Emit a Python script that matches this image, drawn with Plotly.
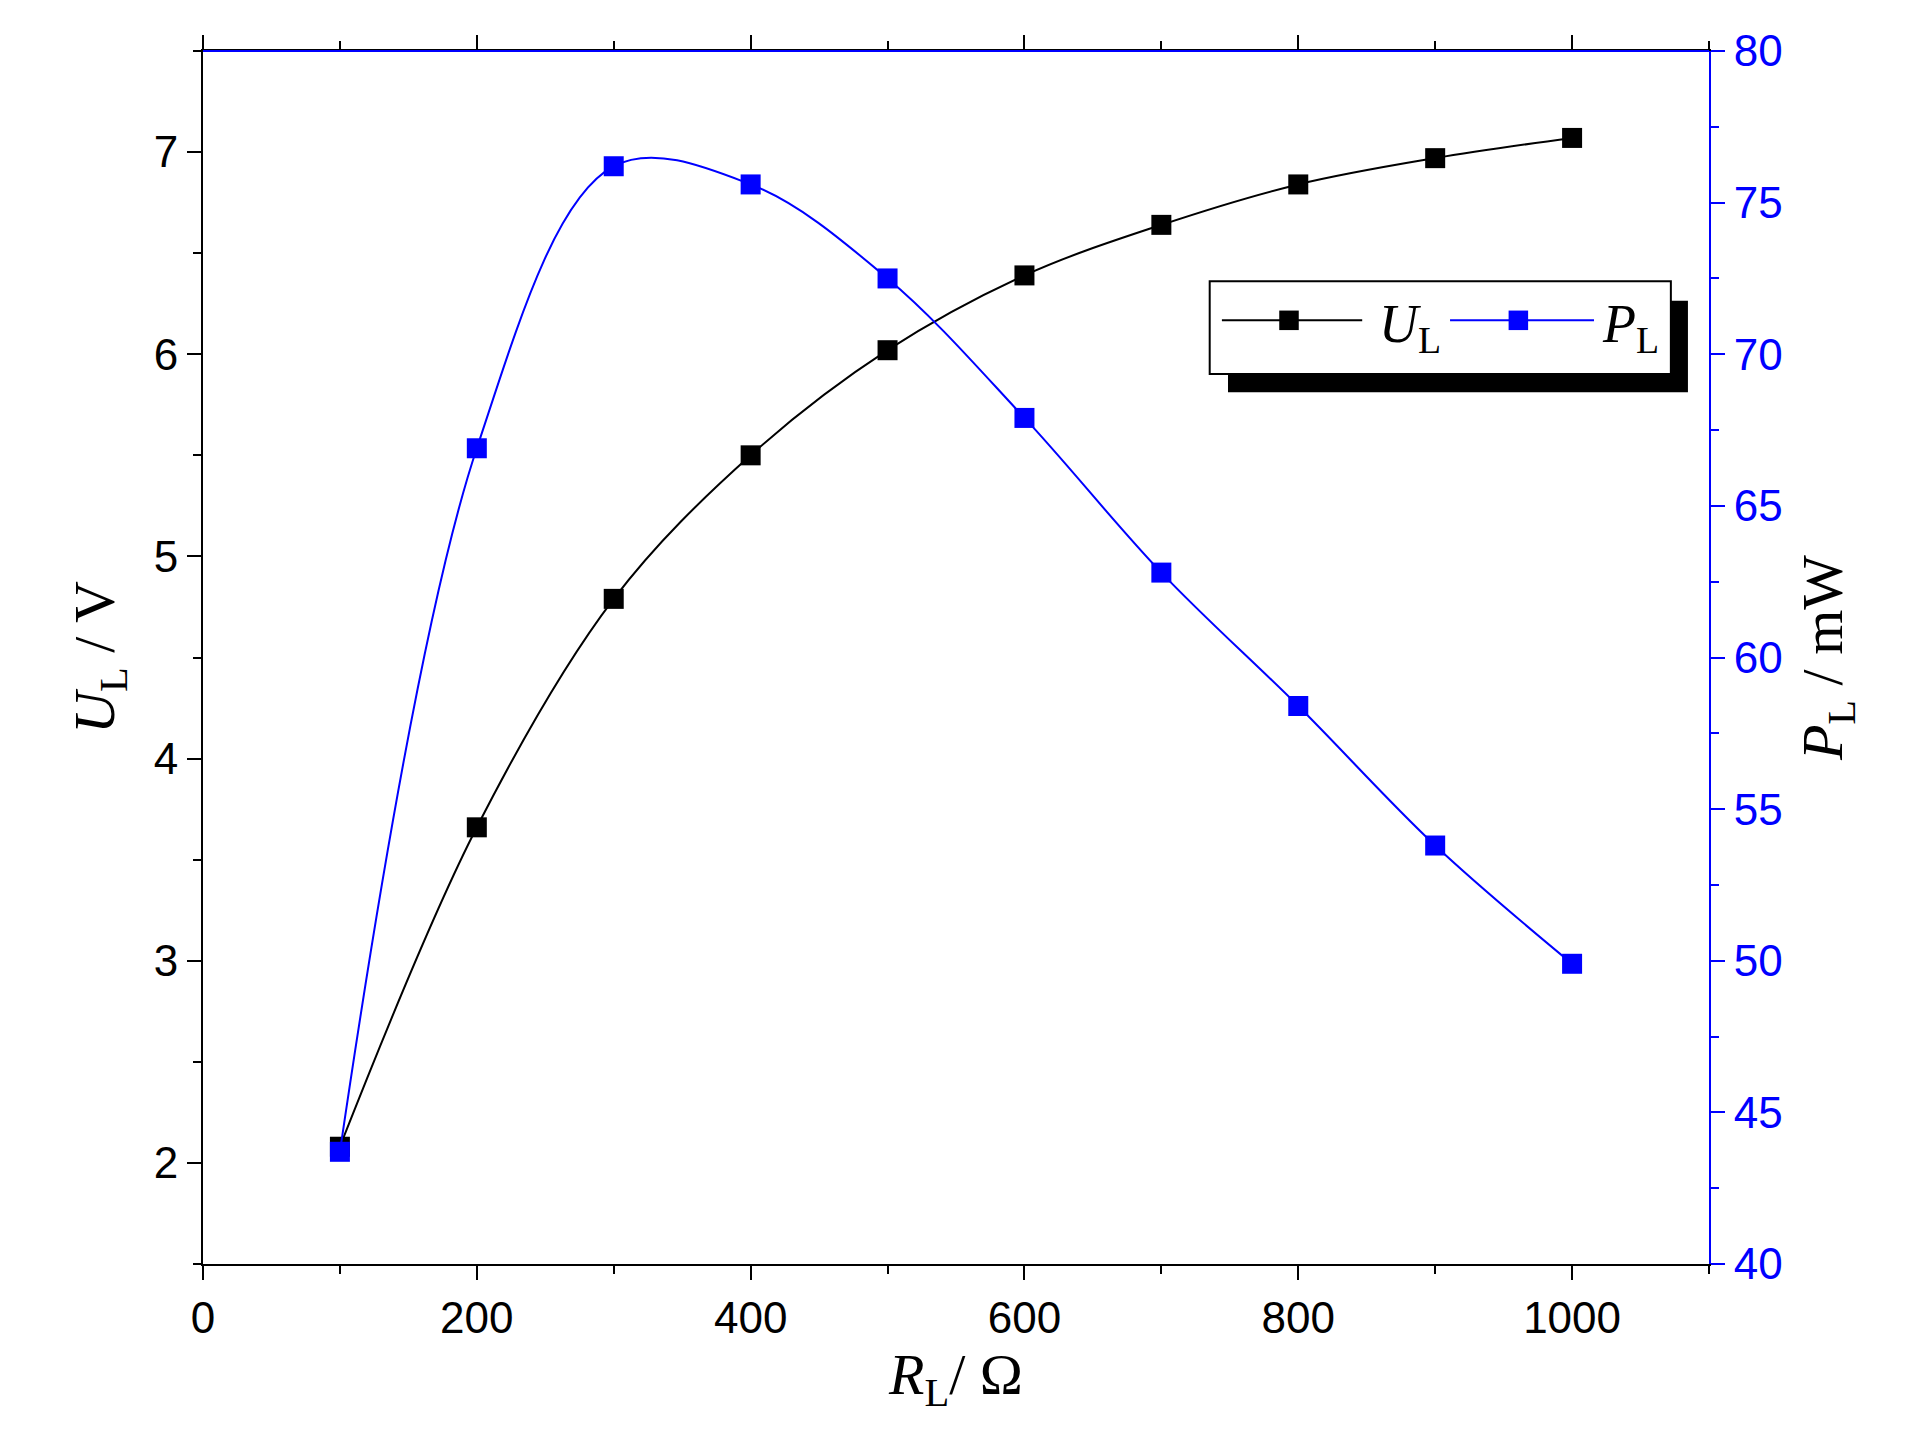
import plotly.graph_objects as go

R = [100, 200, 300, 400, 500, 600, 700, 800, 900, 1000]
U = [2.08, 3.66, 4.79, 5.50, 6.02, 6.39, 6.64, 6.84, 6.97, 7.07]
P = [43.7, 66.9, 76.2, 75.6, 72.5, 67.9, 62.8, 58.4, 53.8, 49.9]

fig = go.Figure()
fig.add_trace(go.Scatter(x=R, y=U, mode='lines+markers', line=dict(color='black', width=2, shape='spline'),
                         marker=dict(symbol='square', size=20, color='black'), showlegend=False))
fig.add_trace(go.Scatter(x=R, y=P, mode='lines+markers', line=dict(color='blue', width=2, shape='spline', smoothing=1.0),
                         marker=dict(symbol='square', size=20, color='blue'), showlegend=False, yaxis='y2'))

S = 1.22
def px(x): return (x * S - 195) / 1506
def py(y): return 1 - (y * S - 43) / 1213

shapes = [
    dict(type='rect', xref='paper', yref='paper', x0=px(1000), x1=px(1377), y0=py(315), y1=py(240),
         fillcolor='black', line=dict(width=0)),
    dict(type='rect', xref='paper', yref='paper', x0=px(985), x1=px(1363), y0=py(300), y1=py(224),
         fillcolor='white', line=dict(color='black', width=2)),
    dict(type='line', xref='paper', yref='paper', x0=px(995), x1=px(1110), y0=py(256), y1=py(256), line=dict(color='black', width=2)),
    dict(type='rect', xref='paper', yref='paper', x0=px(1042), x1=px(1058), y0=py(264), y1=py(248), fillcolor='black', line=dict(width=0)),
    dict(type='line', xref='paper', yref='paper', x0=px(1182), x1=px(1300), y0=py(256), y1=py(256), line=dict(color='blue', width=2)),
    dict(type='rect', xref='paper', yref='paper', x0=px(1230), x1=px(1246), y0=py(264), y1=py(248), fillcolor='blue', line=dict(width=0)),
    dict(type='line', xref='paper', yref='paper', x0=0, x1=1, y0=1, y1=1, line=dict(color='blue', width=2)),
]
lf = dict(family='Liberation Serif', size=54, color='black')
annotations = [
    dict(xref='paper', yref='paper', x=px(1122), y=py(262), text='<i>U</i><sub>L</sub>', showarrow=False, xanchor='left', yanchor='middle', font=lf),
    dict(xref='paper', yref='paper', x=px(1305), y=py(262), text='<i>P</i><sub>L</sub>', showarrow=False, xanchor='left', yanchor='middle', font=lf),
]

tf = dict(family='Liberation Sans', size=44, color='black')
titf = dict(family='Liberation Serif', size=58, color='black')
fig.update_layout(
    width=1910, height=1448, plot_bgcolor='white', paper_bgcolor='white',
    margin=dict(l=195, r=209, t=43, b=192), showlegend=False,
    xaxis=dict(range=[0, 1100], dtick=200, ticks='outside', ticklen=14, tickwidth=2, tickcolor='black',
               showline=True, linecolor='black', linewidth=2, mirror='ticks', showgrid=False, zeroline=False,
               minor=dict(dtick=100, ticks='outside', ticklen=8, tickwidth=2, tickcolor='black'),
               tickfont=tf, title=dict(text='<i>R</i><sub>L</sub>/ Ω', font=titf, standoff=10)),
    yaxis=dict(range=[1.5, 7.5], dtick=1, ticks='outside', ticklen=14, tickwidth=2, tickcolor='black',
               showline=True, linecolor='black', linewidth=2, showgrid=False, zeroline=False,
               minor=dict(dtick=0.5, ticks='outside', ticklen=8, tickwidth=2, tickcolor='black'),
               tickfont=tf, title=dict(text='<i>U</i><sub>L</sub> / V', font=titf, standoff=20)),
    yaxis2=dict(range=[40, 80], dtick=5, overlaying='y', side='right', ticks='outside', ticklen=14, tickwidth=2,
                tickcolor='blue', showline=True, linecolor='blue', linewidth=2, showgrid=False, zeroline=False,
                minor=dict(dtick=2.5, ticks='outside', ticklen=8, tickwidth=2, tickcolor='blue'),
                tickfont=dict(family='Liberation Sans', size=44, color='blue'),
                title=dict(text='<i>P</i><sub>L</sub> / mW', font=titf, standoff=20)),
    shapes=shapes, annotations=annotations,
)
fig.write_html('out.html')
